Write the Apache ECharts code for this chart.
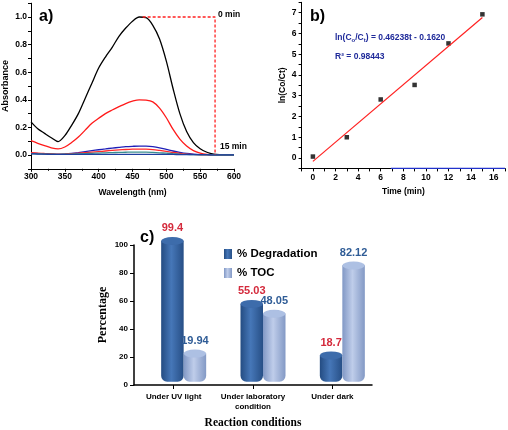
<!DOCTYPE html>
<html><head><meta charset="utf-8">
<script src="https://cdn.jsdelivr.net/npm/echarts@6/dist/echarts.min.js"></script>
<style>html,body{margin:0;padding:0;background:#fff}#c{width:508px;height:430px}</style>
</head><body><div id="c"></div>
<script>
// ---------- Panel a: UV-vis spectra ----------
const wavelengths = [300,310,320,330,340,350,360,370,380,390,400,410,420,430,440,450,460,470,480,490,500,510,520,530,540,550,560,570,580,590,600];
const abs0min  = [0.24,0.19,0.157,0.125,0.097,0.14,0.215,0.30,0.41,0.52,0.63,0.71,0.78,0.86,0.92,0.97,1.0,0.995,0.94,0.84,0.68,0.48,0.30,0.17,0.09,0.045,0.02,0.006,0.002,0.001,0.0];
const abs3min  = [0.104,0.085,0.068,0.052,0.044,0.058,0.09,0.13,0.18,0.23,0.266,0.30,0.326,0.35,0.373,0.39,0.40,0.398,0.385,0.34,0.27,0.185,0.115,0.065,0.032,0.014,0.005,0.002,0.001,0,0];
const abs6min  = [0.014,0.011,0.009,0.007,0.005,0.007,0.011,0.017,0.024,0.031,0.038,0.044,0.050,0.055,0.060,0.063,0.065,0.064,0.060,0.052,0.041,0.029,0.019,0.011,0.006,0.003,0.002,0.001,0.001,0,0];
const abs9min  = [0.017,0.014,0.011,0.009,0.007,0.008,0.010,0.013,0.017,0.021,0.025,0.029,0.033,0.037,0.040,0.042,0.043,0.042,0.039,0.033,0.026,0.018,0.012,0.007,0.004,0.002,0.001,0.001,0,0,0];
const abs12min = [0.010,0.008,0.007,0.006,0.005,0.006,0.007,0.008,0.010,0.012,0.014,0.016,0.017,0.019,0.020,0.021,0.021,0.021,0.019,0.016,0.013,0.009,0.006,0.004,0.002,0.001,0.001,0,0,0,0];
const abs15min = [0.008,0.007,0.006,0.005,0.004,0.004,0.004,0.004,0.004,0.004,0.005,0.005,0.005,0.005,0.005,0.005,0.005,0.005,0.005,0.005,0.004,0.004,0.003,0.003,0.002,0.002,0.002,0.001,0.001,0.001,0.001];
const dashX = [465, 572, 572];
const dashY = [1.0, 1.0, 0.0];

// ---------- Panel b: kinetics ----------
const times = [0, 3, 6, 9, 12, 15];
const lnRatio = [0.07, 1.0, 2.82, 3.52, 5.52, 6.92];
const fitT = [0, 15];
const fitY = [-0.16, 6.77];
const baseT = [6.9, 17];
const baseY = [-0.5, -0.5];

// ---------- Panel c: bar comparison ----------
const conditions = ['Under UV light', 'Under laboratory\ncondition', 'Under dark'];
const degradation = [99.4, 55.03, 18.7];
const toc = [19.94, 48.05, 82.12];
const pctTicks = [0, 20, 40, 60, 80, 100];

const F = 'Liberation Sans, Arial, sans-serif';
const FS = 'Liberation Serif, Times New Roman, serif';
const pairs = (xs, ys) => xs.map((x, i) => [x, ys[i]]);
const axisFont = {fontFamily: F, fontWeight: 'bold', fontSize: 8.5, color: '#000'};
const nameFont = {fontFamily: F, fontWeight: 'bold', fontSize: 8.5, color: '#000'};
const blackLine = {lineStyle: {color: '#000', width: 1}};

const darkGrad = {type: 'linear', x: 0, y: 0, x2: 1, y2: 0, colorStops: [
  {offset: 0, color: '#244c82'}, {offset: 0.45, color: '#4677b8'}, {offset: 1, color: '#274f86'}]};
const lightGrad = {type: 'linear', x: 0, y: 0, x2: 1, y2: 0, colorStops: [
  {offset: 0, color: '#8198c5'}, {offset: 0.45, color: '#bfcdea'}, {offset: 1, color: '#8399c5'}]};

function lineSeries(name, ys, color) {
  return {name, type: 'line', xAxisIndex: 0, yAxisIndex: 0, data: pairs(wavelengths, ys),
    showSymbol: false, smooth: 0.3, lineStyle: {color, width: 1.3}, itemStyle: {color}};
}

const chart = echarts.init(document.getElementById('c'));
chart.setOption({
  animation: false,
  backgroundColor: '#fff',
  grid: [
    {left: 31, top: 3.2, width: 203, height: 165.6},
    {left: 301.6, top: 2.3, width: 204.8, height: 166.1},
    {left: 134, top: 245, width: 238, height: 141.7},
    {left: 144, top: 240, width: 238, height: 141.7}
  ],
  legend: {
    data: ['% Degradation', '% TOC'], orient: 'vertical', left: 219, top: 243,
    itemWidth: 8, itemHeight: 10, itemGap: 7, icon: 'rect',
    textStyle: {fontFamily: F, fontWeight: 'bold', fontSize: 11.5, color: '#000'}
  },
  xAxis: [
    {gridIndex: 0, type: 'value', min: 300, max: 600, interval: 50,
      axisLine: {onZero: false, ...blackLine}, axisTick: {length: 3, ...blackLine},
      minorTick: {show: true, splitNumber: 2, length: 2, ...blackLine}, splitLine: {show: false},
      axisLabel: {...axisFont, margin: 3},
      name: 'Wavelength (nm)', nameLocation: 'middle', nameGap: 19.5, nameTextStyle: nameFont},
    {gridIndex: 1, type: 'value', min: -1, max: 17, interval: 1,
      axisLine: {onZero: false, ...blackLine}, axisTick: {length: 3, ...blackLine}, splitLine: {show: false},
      axisLabel: {...axisFont, margin: 5, formatter: v => (v >= 0 && v <= 16 && Math.round(v) % 2 === 0) ? String(Math.round(v)) : ''},
      name: 'Time (min)', nameLocation: 'middle', nameGap: 19, nameTextStyle: nameFont},
    {gridIndex: 2, type: 'category', data: conditions,
      axisLine: {lineStyle: {color: '#000', width: 1.5}}, axisTick: {show: true, alignWithLabel: true, length: 4, ...blackLine},
      axisLabel: {interval: 0, fontFamily: F, fontWeight: 'bold', fontSize: 8, color: '#000', margin: 7, lineHeight: 10},
      name: 'Reaction conditions', nameLocation: 'middle', nameGap: 32,
      nameTextStyle: {fontFamily: FS, fontWeight: 'bold', fontSize: 11.5, color: '#000'}},
    {gridIndex: 3, type: 'category', data: conditions, show: false}
  ],
  yAxis: [
    {gridIndex: 0, type: 'value', min: -0.1, max: 1.1, interval: 0.1,
      axisLine: {show: true, onZero: false, ...blackLine}, axisTick: {show: true, length: 3, ...blackLine}, splitLine: {show: false},
      axisLabel: {...axisFont, margin: 4, formatter: v => {const k = Math.round(v * 10); return (k >= 0 && k <= 10 && k % 2 === 0) ? (k / 10).toFixed(1) : '';}},
      name: 'Absorbance', nameLocation: 'middle', nameGap: 21, nameTextStyle: {...nameFont, fontSize: 9}},
    {gridIndex: 1, type: 'value', min: -0.5, max: 7.5, interval: 0.5,
      axisLine: {show: true, onZero: false, ...blackLine}, axisTick: {show: true, length: 3, ...blackLine}, splitLine: {show: false},
      axisLabel: {...axisFont, margin: 5, formatter: v => (Math.abs(v - Math.round(v)) < 1e-6 && v >= 0 && v <= 7) ? String(Math.round(v)) : ''},
      name: 'ln(Co/Ct)', nameLocation: 'middle', nameGap: 14, nameTextStyle: nameFont},
    {gridIndex: 2, type: 'value', min: pctTicks[0], max: pctTicks[pctTicks.length - 1], interval: 20,
      axisLine: {show: true, lineStyle: {color: '#000', width: 1.5}}, axisTick: {show: true, length: 4, ...blackLine}, splitLine: {show: false},
      axisLabel: {fontFamily: F, fontWeight: 'bold', fontSize: 8, color: '#000', margin: 6},
      name: 'Percentage', nameLocation: 'middle', nameGap: 25,
      nameTextStyle: {fontFamily: FS, fontWeight: 'bold', fontSize: 12, color: '#000'}},
    {gridIndex: 3, type: 'value', min: 0, max: 100, show: false}
  ],
  series: [
    lineSeries('0 min', abs0min, '#000000'),
    lineSeries('3 min', abs3min, '#ff1a1a'),
    lineSeries('6 min', abs6min, '#1f1fb8'),
    lineSeries('9 min', abs9min, '#ff2a2a'),
    lineSeries('12 min', abs12min, '#3a8f8f'),
    lineSeries('15 min', abs15min, '#1d3f9e'),
    {type: 'line', xAxisIndex: 0, yAxisIndex: 0, data: pairs(dashX, dashY), showSymbol: false,
      lineStyle: {color: '#ff2020', width: 1.3, type: [3, 2]}},
    {type: 'line', xAxisIndex: 1, yAxisIndex: 1, data: pairs(baseT, baseY), showSymbol: false,
      lineStyle: {color: '#2233cc', width: 1.2}},
    {type: 'line', xAxisIndex: 1, yAxisIndex: 1, data: pairs(fitT, fitY), showSymbol: false,
      lineStyle: {color: '#ff2020', width: 1.2}},
    {type: 'scatter', xAxisIndex: 1, yAxisIndex: 1, data: pairs(times, lnRatio), symbol: 'rect', symbolSize: 4.5,
      itemStyle: {color: '#000'}},
    {name: '% Degradation', type: 'bar', xAxisIndex: 3, yAxisIndex: 3, data: degradation, barWidth: 22.5, barGap: 0,
      itemStyle: {color: darkGrad, borderRadius: [0, 0, 6, 6]}, z: 2,
      label: {show: true, position: 'top', distance: 7, color: '#d42a3c', fontFamily: F, fontWeight: 'bold', fontSize: 11}},
    {name: '% TOC', type: 'bar', xAxisIndex: 3, yAxisIndex: 3, data: toc, barWidth: 22.5, barGap: 0,
      itemStyle: {color: lightGrad, borderRadius: [0, 0, 6, 6]}, z: 2,
      label: {show: true, position: 'top', distance: 7, color: '#2f5c96', fontFamily: F, fontWeight: 'bold', fontSize: 11}},
    {name: 'degTop', type: 'pictorialBar', xAxisIndex: 3, yAxisIndex: 3, data: degradation, symbol: 'circle',
      symbolSize: [22.5, 8], symbolPosition: 'end', symbolOffset: [0, '-50%'], barWidth: 22.5, barGap: 0, z: 3,
      itemStyle: {color: '#3d6cab', borderColor: '#204878', borderWidth: 0.6}},
    {name: 'tocTop', type: 'pictorialBar', xAxisIndex: 3, yAxisIndex: 3, data: toc, symbol: 'circle',
      symbolSize: [22.5, 8], symbolPosition: 'end', symbolOffset: [0, '-50%'], barWidth: 22.5, barGap: 0, z: 3,
      itemStyle: {color: '#adc0e3', borderColor: '#7d92bd', borderWidth: 0.6}}
  ],
  graphic: [
    {type: 'text', left: 39, top: 9, style: {text: 'a)', font: 'bold 16px ' + F, fill: '#000'}},
    {type: 'text', left: 310, top: 9, style: {text: 'b)', font: 'bold 16px ' + F, fill: '#000'}},
    {type: 'text', left: 140, top: 230, style: {text: 'c)', font: 'bold 16px ' + F, fill: '#000'}},
    {type: 'text', left: 218, top: 10.5, style: {text: '0 min', font: 'bold 8.5px ' + F, fill: '#000'}},
    {type: 'text', left: 220, top: 142, style: {text: '15 min', font: 'bold 8.5px ' + F, fill: '#000'}},
    {type: 'text', left: 335, top: 33, style: {
      text: '{a|ln(C}{s|o}{a|/C}{s|t}{a|) = 0.46238t - 0.1620}',
      rich: {a: {font: 'bold 8.5px ' + F, fill: '#1f2a9a', lineHeight: 12, verticalAlign: 'middle'},
             s: {font: 'bold 6px ' + F, fill: '#1f2a9a', lineHeight: 12, verticalAlign: 'bottom'}}}},
    {type: 'text', left: 335, top: 52, style: {text: 'R² = 0.98443', font: 'bold 8.5px ' + F, fill: '#1f2a9a'}}
  ]
});
</script>
</body></html>
